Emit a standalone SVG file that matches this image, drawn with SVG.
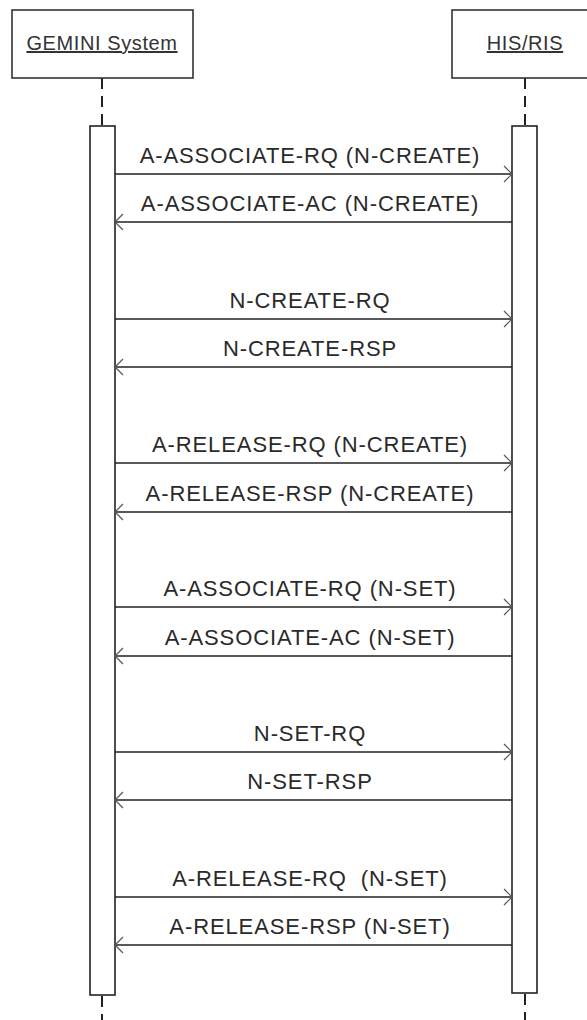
<svg xmlns="http://www.w3.org/2000/svg" width="587" height="1020" viewBox="0 0 587 1020">
<style>
  .box { fill: #fff; stroke: #333; stroke-width: 1.6; }
  .act { fill: #fff; stroke: #222; stroke-width: 1.6; }
  .life { stroke: #222; stroke-width: 2; stroke-dasharray: 11 7; fill: none; }
  .msg { stroke: #222; stroke-width: 1.4; fill: none; }
  .head { stroke: #555; stroke-width: 1.2; fill: none; }
  .lbl { font-family: "Liberation Sans", Arial, sans-serif; font-size: 22px; letter-spacing: 0.9px; fill: #2a2a2a; text-anchor: middle; white-space: pre; }
  .name { font-family: "Liberation Sans", Arial, sans-serif; font-size: 20px; letter-spacing: 0.6px; fill: #333; text-anchor: middle; text-decoration: underline; }
</style>
<rect width="587" height="1020" fill="#fff"/>
<g id="lifelines">
  <line class="life" x1="102" y1="78" x2="102" y2="126"/>
  <line class="life" x1="102" y1="996" x2="102" y2="1020"/>
  <line class="life" x1="525" y1="78" x2="525" y2="126"/>
  <line class="life" x1="525" y1="994" x2="525" y2="1020"/>
</g>
<g id="gemini">
  <rect class="box" x="12" y="10" width="181" height="68"/>
  <text class="name" x="102" y="50">GEMINI System</text>
</g>
<g id="hisris">
  <rect class="box" x="452" y="10" width="146" height="68"/>
  <text class="name" x="525" y="50">HIS/RIS</text>
</g>
<g id="gemini-activation">
  <rect class="act" x="90" y="126" width="25" height="869"/>
</g>
<g id="hisris-activation">
  <rect class="act" x="512" y="126" width="25" height="867"/>
</g>
<g id="connectors">
  <line class="msg" x1="115" y1="174" x2="512" y2="174"/><polyline class="head" points="504,166 512,174 504,182"/>
  <line class="msg" x1="512" y1="222" x2="115" y2="222"/><polyline class="head" points="123,214 115,222 123,230"/>
  <line class="msg" x1="115" y1="319" x2="512" y2="319"/><polyline class="head" points="504,311 512,319 504,327"/>
  <line class="msg" x1="512" y1="367" x2="115" y2="367"/><polyline class="head" points="123,359 115,367 123,375"/>
  <line class="msg" x1="115" y1="463" x2="512" y2="463"/><polyline class="head" points="504,455 512,463 504,471"/>
  <line class="msg" x1="512" y1="512" x2="115" y2="512"/><polyline class="head" points="123,504 115,512 123,520"/>
  <line class="msg" x1="115" y1="607" x2="512" y2="607"/><polyline class="head" points="504,599 512,607 504,615"/>
  <line class="msg" x1="512" y1="656" x2="115" y2="656"/><polyline class="head" points="123,648 115,656 123,664"/>
  <line class="msg" x1="115" y1="752" x2="512" y2="752"/><polyline class="head" points="504,744 512,752 504,760"/>
  <line class="msg" x1="512" y1="800" x2="115" y2="800"/><polyline class="head" points="123,792 115,800 123,808"/>
  <line class="msg" x1="115" y1="897" x2="512" y2="897"/><polyline class="head" points="504,889 512,897 504,905"/>
  <line class="msg" x1="512" y1="945" x2="115" y2="945"/><polyline class="head" points="123,937 115,945 123,953"/>
</g>
<g id="labels">
  <text class="lbl" x="310" y="163">A-ASSOCIATE-RQ (N-CREATE)</text>
  <text class="lbl" x="310" y="211">A-ASSOCIATE-AC (N-CREATE)</text>
  <text class="lbl" x="310" y="308">N-CREATE-RQ</text>
  <text class="lbl" x="310" y="356">N-CREATE-RSP</text>
  <text class="lbl" x="310" y="452">A-RELEASE-RQ (N-CREATE)</text>
  <text class="lbl" x="310" y="501">A-RELEASE-RSP (N-CREATE)</text>
  <text class="lbl" x="310" y="596">A-ASSOCIATE-RQ (N-SET)</text>
  <text class="lbl" x="310" y="645">A-ASSOCIATE-AC (N-SET)</text>
  <text class="lbl" x="310" y="741">N-SET-RQ</text>
  <text class="lbl" x="310" y="789">N-SET-RSP</text>
  <text class="lbl" x="310" y="886">A-RELEASE-RQ  (N-SET)</text>
  <text class="lbl" x="310" y="934">A-RELEASE-RSP (N-SET)</text>
</g>
</svg>
